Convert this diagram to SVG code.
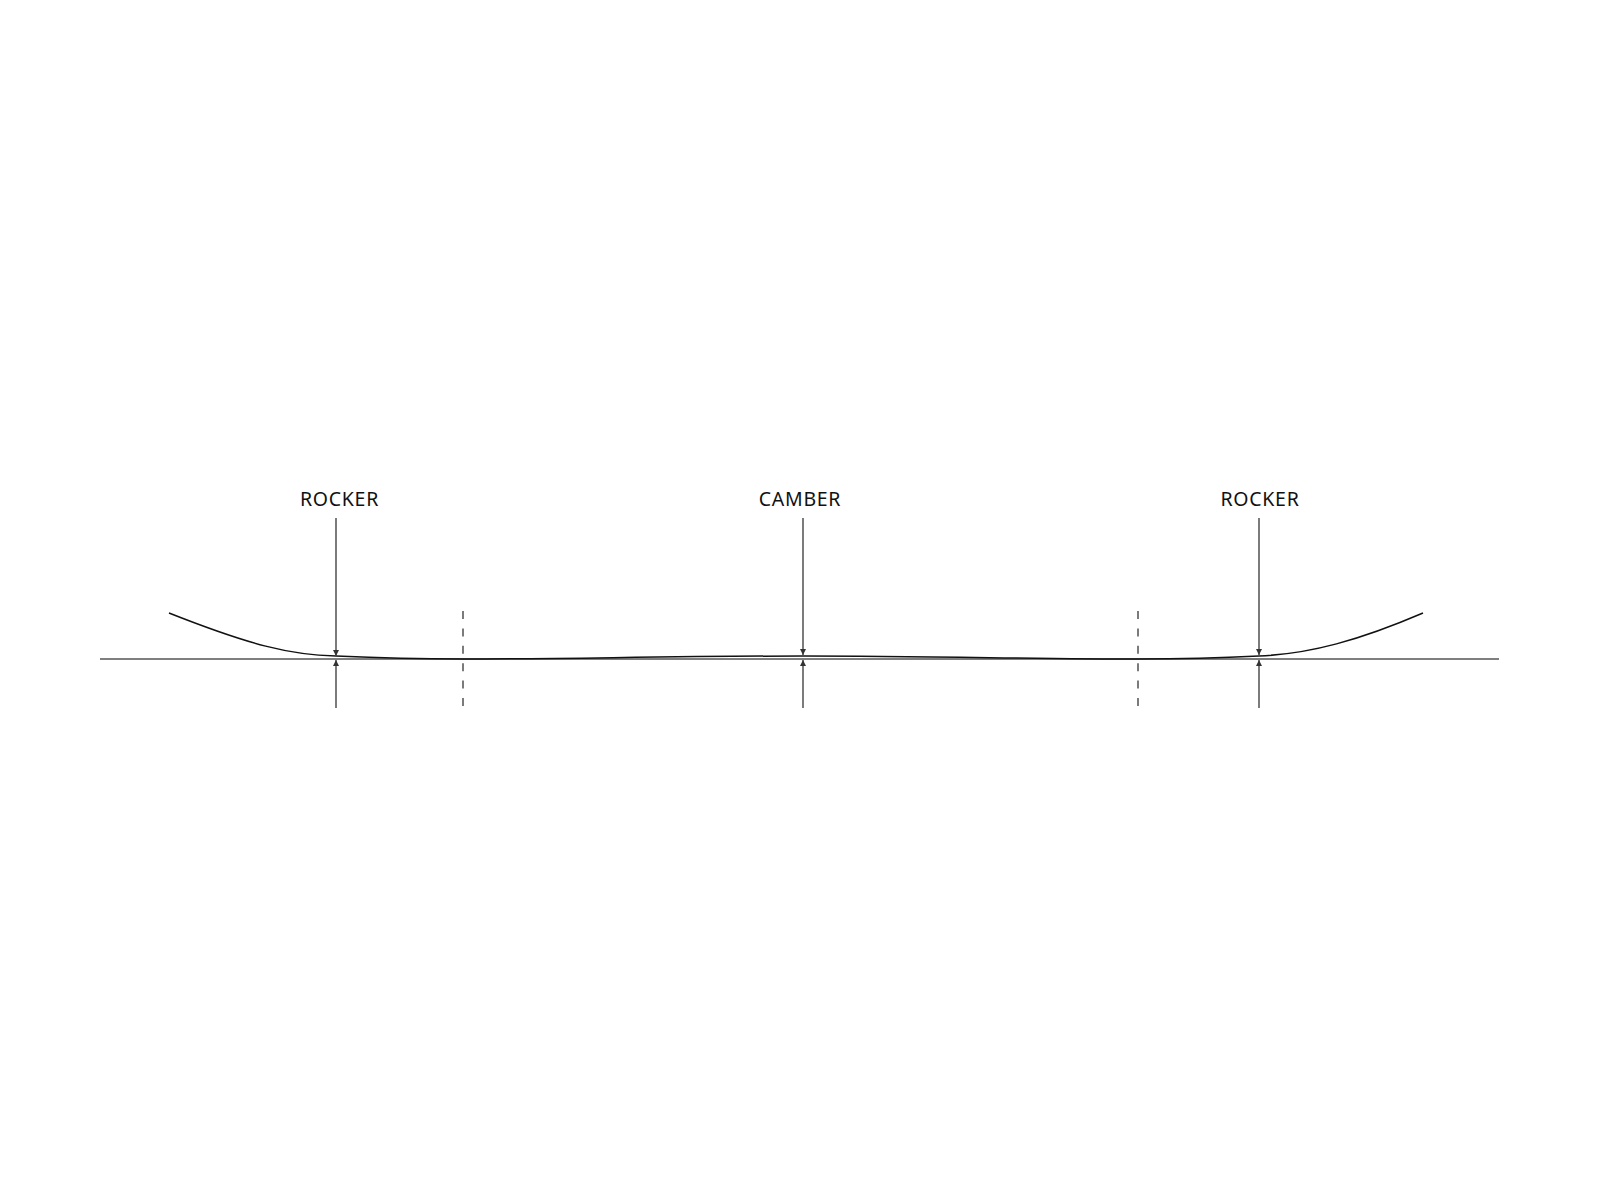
<svg xmlns="http://www.w3.org/2000/svg" width="1600" height="1200" viewBox="0 0 1600 1200">
<style>
.lbl{font-family:"Noto Sans","Open Sans",sans-serif;font-size:19.5px;letter-spacing:0.7px;fill:#111;text-anchor:middle}
.arr{stroke:#444;stroke-width:1.4;fill:none}
.dash{stroke:#444;stroke-width:1.4;stroke-dasharray:8,9.4;fill:none}
</style>
<defs>
<marker id="ah" viewBox="0 0 10 10" refX="10" refY="5" markerWidth="6" markerHeight="6" orient="auto" markerUnits="userSpaceOnUse">
<path d="M0,0 L10,5 L0,10 z" fill="#333"/>
</marker>
</defs>
<rect width="1600" height="1200" fill="#fff"/>
<g id="baseline"><line x1="100" y1="659" x2="1499" y2="659" stroke="#555" stroke-width="1.6"/></g>
<g id="board"><path d="M169,613 C250,645 290,655 336,656 C380,658 420,659 463,659 C560,659 680,656 803,656 C926,656 1040,659 1138,659 C1180,659 1220,658 1259,656 C1310,654 1360,640 1423,613" fill="none" stroke="#111" stroke-width="1.5"/></g>
<g id="dividers">
<line class="dash" x1="463" y1="611" x2="463" y2="708"/>
<line class="dash" x1="1138" y1="611" x2="1138" y2="708"/>
</g>
<g id="label-rocker-left"><text class="lbl" x="339.5" y="506">ROCKER</text></g>
<g id="label-camber"><text class="lbl" x="800" y="506">CAMBER</text></g>
<g id="label-rocker-right"><text class="lbl" x="1260" y="506">ROCKER</text></g>
<g id="connectors">
<line class="arr" x1="336" y1="518" x2="336" y2="656" marker-end="url(#ah)"/>
<line class="arr" x1="336" y1="708" x2="336" y2="660" marker-end="url(#ah)"/>
<line class="arr" x1="803" y1="518" x2="803" y2="655" marker-end="url(#ah)"/>
<line class="arr" x1="803" y1="708" x2="803" y2="660" marker-end="url(#ah)"/>
<line class="arr" x1="1259" y1="518" x2="1259" y2="655" marker-end="url(#ah)"/>
<line class="arr" x1="1259" y1="708" x2="1259" y2="660" marker-end="url(#ah)"/>
</g>
</svg>
